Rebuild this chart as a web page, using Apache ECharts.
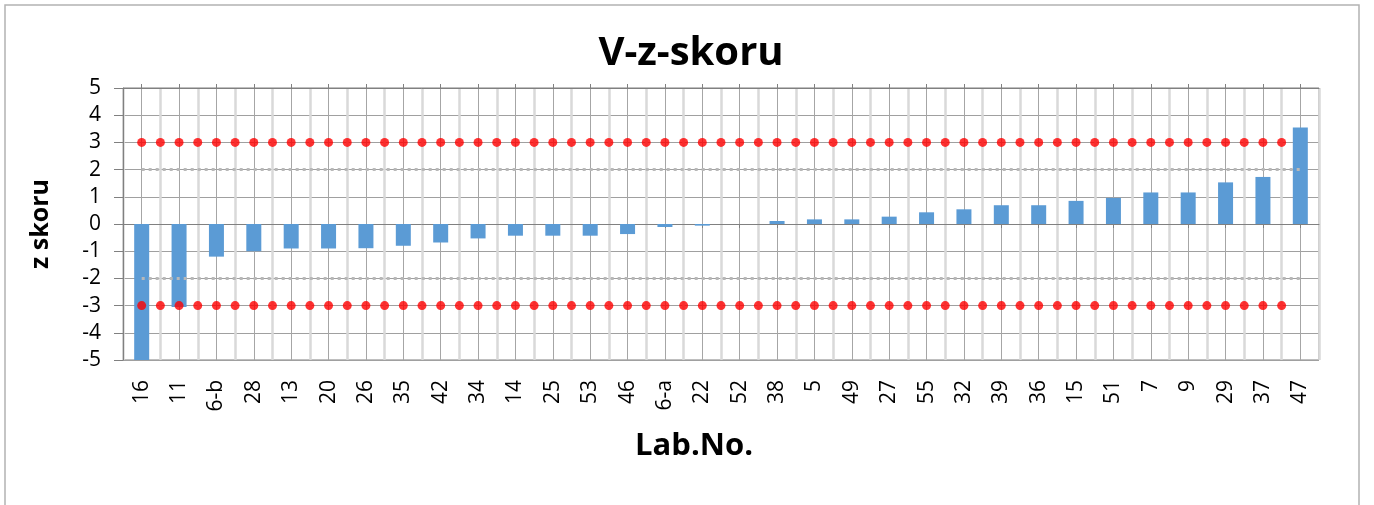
<!DOCTYPE html>
<html>
<head>
<meta charset="utf-8">
<script src="https://cdn.jsdelivr.net/npm/echarts@6/dist/echarts.min.js"></script>
<style>
  html, body { margin: 0; padding: 0; background: #fff; }
  #main { width: 1374px; height: 505px; }
</style>
</head>
<body>
<div id="main"></div>
<script>
// lab numbers on the x axis
const labs = ['16', '11', '6-b', '28', '13', '20', '26', '35', '42', '34', '14', '25', '53', '46', '6-a', '22',
  '52', '38', '5', '49', '27', '55', '32', '39', '36', '15', '51', '7', '9', '29', '37', '47']

// z scores
const zScores = [-5.0, -3.05, -1.2, -1.0, -0.9, -0.9, -0.89, -0.8, -0.68, -0.53, -0.43, -0.43, -0.43, -0.37, -0.11, -0.06,
  0.0, 0.11, 0.17, 0.17, 0.27, 0.43, 0.54, 0.69, 0.69, 0.85, 0.96, 1.16, 1.16, 1.53, 1.73, 3.55]

// warning limits (dotted grey), one value per lab
const warnHigh = [2, 2, 2, 2, 2, 2, 2, 2, 2, 2, 2, 2, 2, 2, 2, 2, 2, 2, 2, 2, 2, 2, 2, 2, 2, 2, 2, 2, 2, 2, 2, 2]
const warnLow = [-2, -2, -2, -2, -2, -2, -2, -2, -2, -2, -2, -2, -2, -2, -2, -2, -2, -2, -2, -2, -2, -2, -2, -2, -2, -2, -2, -2, -2, -2, -2, -2]

// action limits (red dots), drawn on a half-step axis, first slot empty
const actHigh = ['-',
  3, 3, 3, 3, 3, 3, 3, 3, 3, 3, 3, 3, 3, 3, 3, 3, 3, 3, 3, 3, 3, 3, 3, 3, 3, 3, 3, 3, 3, 3, 3,
  3, 3, 3, 3, 3, 3, 3, 3, 3, 3, 3, 3, 3, 3, 3, 3, 3, 3, 3, 3, 3, 3, 3, 3, 3, 3, 3, 3, 3, 3, 3]
const actLow = ['-',
  -3, -3, -3, -3, -3, -3, -3, -3, -3, -3, -3, -3, -3, -3, -3, -3, -3, -3, -3, -3, -3, -3, -3, -3, -3, -3, -3, -3, -3, -3, -3,
  -3, -3, -3, -3, -3, -3, -3, -3, -3, -3, -3, -3, -3, -3, -3, -3, -3, -3, -3, -3, -3, -3, -3, -3, -3, -3, -3, -3, -3, -3, -3]

const yTicks = { min: -5, max: 5, interval: 1 }

// half-step slots: 2 per lab plus the closing edge
const halfSlots = []
for (let i = 0; i <= labs.length * 2; i++) halfSlots.push(String(i))

const font = '"Open Sans", "DejaVu Sans", sans-serif'
const gridBox = { left: 123, right: 55, top: 88, bottom: 145 }

const chart = echarts.init(document.getElementById('main'))
const option = {
  animation: false,
  textStyle: { fontFamily: font },
  graphic: [{
    type: 'rect',
    shape: { x: 5, y: 5, width: 1354, height: 530 },
    style: { fill: 'none', stroke: '#b3b3b3', lineWidth: 1.5 },
    silent: true,
  }],
  title: [
    { text: 'V-z-skoru', left: 686, top: 29, textAlign: 'center',
      textStyle: { fontSize: 40, fontWeight: 'bold', color: '#000', fontFamily: font } },
    { text: 'Lab.No.', left: 689, top: 426, textAlign: 'center',
      textStyle: { fontSize: 31, fontWeight: 'bold', color: '#000', fontFamily: font } },
  ],
  grid: [
    Object.assign({ show: true, borderColor: '#7f7f7f', borderWidth: 1 }, gridBox),
    Object.assign({}, gridBox),
  ],
  xAxis: [
    {
      type: 'category', data: labs, gridIndex: 0, position: 'bottom',
      axisLine: { show: false, onZero: false },
      axisTick: { show: false },
      axisLabel: { rotate: 90, fontSize: 21, color: '#000', margin: 20 },
      splitLine: { show: true, lineStyle: { color: '#d9d9d9', width: 2.5 } },
    },
    {
      type: 'category', data: halfSlots, gridIndex: 0, position: 'top', boundaryGap: false,
      axisLine: { show: false, onZero: false }, axisTick: { show: false }, axisLabel: { show: false },
      splitLine: { show: true, interval: (i) => i % 2 === 1, lineStyle: { color: '#a6a6a6', width: 1 } },
    },
    {
      type: 'category', data: labs, gridIndex: 1, position: 'bottom',
      axisLine: { onZero: true, lineStyle: { color: '#808080', width: 1 } },
      axisTick: { show: true, alignWithLabel: true, length: 4, lineStyle: { color: '#808080' } },
      axisLabel: { show: false }, splitLine: { show: false },
    },
    {
      type: 'category', data: labs, gridIndex: 1, position: 'top',
      axisLine: { onZero: true, lineStyle: { color: '#808080', width: 1 } },
      axisTick: { show: true, alignWithLabel: true, length: 4, lineStyle: { color: '#808080' } },
      axisLabel: { show: false }, splitLine: { show: false },
    },
  ],
  yAxis: [
    {
      type: 'value', gridIndex: 0, min: yTicks.min, max: yTicks.max, interval: yTicks.interval,
      name: 'z skoru', nameLocation: 'middle', nameRotate: 90, nameGap: 70,
      nameTextStyle: { fontSize: 25, fontWeight: 'bold', color: '#000', fontFamily: font },
      axisLine: { show: true, lineStyle: { color: '#808080' } },
      axisTick: { show: true, length: 9, lineStyle: { color: '#808080' } },
      axisLabel: { fontSize: 21, color: '#000', margin: 22 },
      splitLine: { show: true, lineStyle: { color: '#a0a0a0', width: 1 } },
    },
    {
      type: 'value', gridIndex: 1, min: yTicks.min, max: yTicks.max, interval: yTicks.interval,
      show: false, splitLine: { show: false },
    },
  ],
  series: [
    {
      name: 'z', type: 'bar', xAxisIndex: 0, yAxisIndex: 0, data: zScores,
      barWidth: 15, itemStyle: { color: '#5b9bd5' }, z: 3,
    },
    {
      name: '+2', type: 'line', xAxisIndex: 0, yAxisIndex: 0, data: warnHigh, symbol: 'none',
      lineStyle: { color: '#b8b8b8', width: 3, type: [3, 4] }, z: 4,
    },
    {
      name: '-2', type: 'line', xAxisIndex: 0, yAxisIndex: 0, data: warnLow, symbol: 'none',
      lineStyle: { color: '#b8b8b8', width: 3, type: [3, 4] }, z: 4,
    },
    {
      name: '+3', type: 'scatter', xAxisIndex: 1, yAxisIndex: 0, data: actHigh,
      symbolSize: 9, itemStyle: { color: '#ff0000' }, z: 5,
    },
    {
      name: '-3', type: 'scatter', xAxisIndex: 1, yAxisIndex: 0, data: actLow,
      symbolSize: 9, itemStyle: { color: '#ff0000' }, z: 5,
    },
  ],
}
option && chart.setOption(option)
</script>
</body>
</html>
